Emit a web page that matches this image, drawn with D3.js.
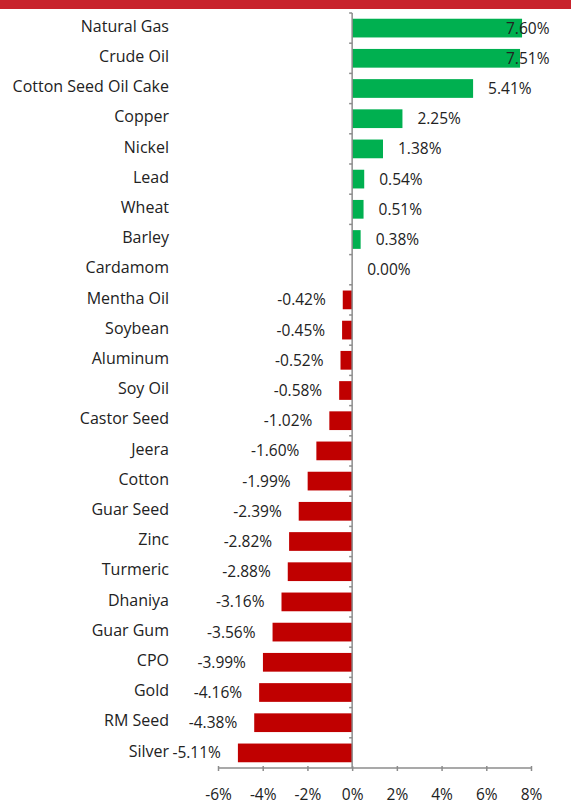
<!DOCTYPE html>
<html>
<head>
<meta charset="utf-8">
<script src="https://cdn.jsdelivr.net/npm/d3@7"></script>
<style>
  html, body { margin: 0; padding: 0; background: #fff; }
  svg { display: block; }
  text { font-family: "Open Sans", Lato, sans-serif; fill: #222; }
</style>
</head>
<body>
<svg id="chart" width="571" height="807"></svg>
<script>
// Weekly commodity price change (%)
const commodities = [
  "Natural Gas", "Crude Oil", "Cotton Seed Oil Cake", "Copper", "Nickel", "Lead",
  "Wheat", "Barley", "Cardamom", "Mentha Oil", "Soybean", "Aluminum", "Soy Oil",
  "Castor Seed", "Jeera", "Cotton", "Guar Seed", "Zinc", "Turmeric", "Dhaniya",
  "Guar Gum", "CPO", "Gold", "RM Seed", "Silver"
];
const changes = [
  7.60, 7.51, 5.41, 2.25, 1.38, 0.54,
  0.51, 0.38, 0.00, -0.42, -0.45, -0.52, -0.58,
  -1.02, -1.60, -1.99, -2.39, -2.82, -2.88, -3.16,
  -3.56, -3.99, -4.16, -4.38, -5.11
];
const xTicks = [-6, -4, -2, 0, 2, 4, 6, 8];

const svg = d3.select("#chart");
const W = 571;

// top banner
svg.append("rect").attr("x", 0).attr("y", 0).attr("width", W).attr("height", 9)
  .attr("fill", "#c8232c");

const x = d3.scaleLinear().domain([-6, 8]).range([218, 531]);
const y = d3.scaleBand().domain(commodities).range([13, 768]).paddingInner(0.38).paddingOuter(0.19);

const data = commodities.map((c, i) => ({ name: c, value: changes[i] }));

// bars
svg.append("g").selectAll("rect").data(data).join("rect")
  .attr("x", d => x(Math.min(0, d.value)))
  .attr("y", d => y(d.name))
  .attr("width", d => Math.abs(x(d.value) - x(0)))
  .attr("height", y.bandwidth())
  .attr("fill", d => d.value >= 0 ? "#00b050" : "#c00000");

// category labels
svg.append("g").selectAll("text").data(data).join("text")
  .attr("x", 169)
  .attr("y", d => y(d.name) + y.bandwidth() / 2 - 2)
  .attr("dy", "0.35em")
  .attr("text-anchor", "end")
  .attr("font-size", 16)
  .text(d => d.name);

// value labels, kept inside the right edge
const fmt = d => d.toFixed(2) + "%";
svg.append("g").selectAll("text").data(data).join("text")
  .attr("x", d => d.value >= 0 ? Math.min(x(d.value) + 15, 506) : x(d.value) - 17)
  .attr("y", d => y(d.name) + y.bandwidth() / 2)
  .attr("dy", "0.35em")
  .attr("text-anchor", d => d.value >= 0 ? "start" : "end")
  .attr("font-size", 15.5)
  .text(d => fmt(d.value));

// vertical category axis at zero
const axisColor = "#8c8c8c";
const yAxis = svg.append("g");
yAxis.append("line")
  .attr("x1", x(0)).attr("x2", x(0))
  .attr("y1", 13).attr("y2", 768)
  .attr("stroke", axisColor).attr("stroke-width", 1.5);
const step = y.step();
const boundaries = d3.range(commodities.length).map(i => y(commodities[i]) - y.paddingInner() * step / 2);
yAxis.selectAll("line.tick").data(boundaries).join("line")
  .attr("class", "tick")
  .attr("x1", x(0) - 3).attr("x2", x(0))
  .attr("y1", d => d).attr("y2", d => d)
  .attr("stroke", axisColor).attr("stroke-width", 1.5);

// bottom value axis
const xAxis = d3.axisBottom(x).tickValues(xTicks).tickSize(5).tickPadding(16)
  .tickFormat(d => d + "%");
const gx = svg.append("g").attr("transform", "translate(0,768)").call(xAxis);
gx.select(".domain").attr("stroke", axisColor).attr("stroke-width", 1.5)
  .attr("d", `M${x(-6)},0H${x(8)}`);
gx.selectAll(".tick line").attr("stroke", axisColor).attr("stroke-width", 1.5)
  .attr("y1", -2).attr("y2", 3);
gx.selectAll(".tick text").attr("font-size", 15.5).attr("fill", "#222")
  .style("font-family", "'Open Sans', Lato, sans-serif");
</script>
</body>
</html>
